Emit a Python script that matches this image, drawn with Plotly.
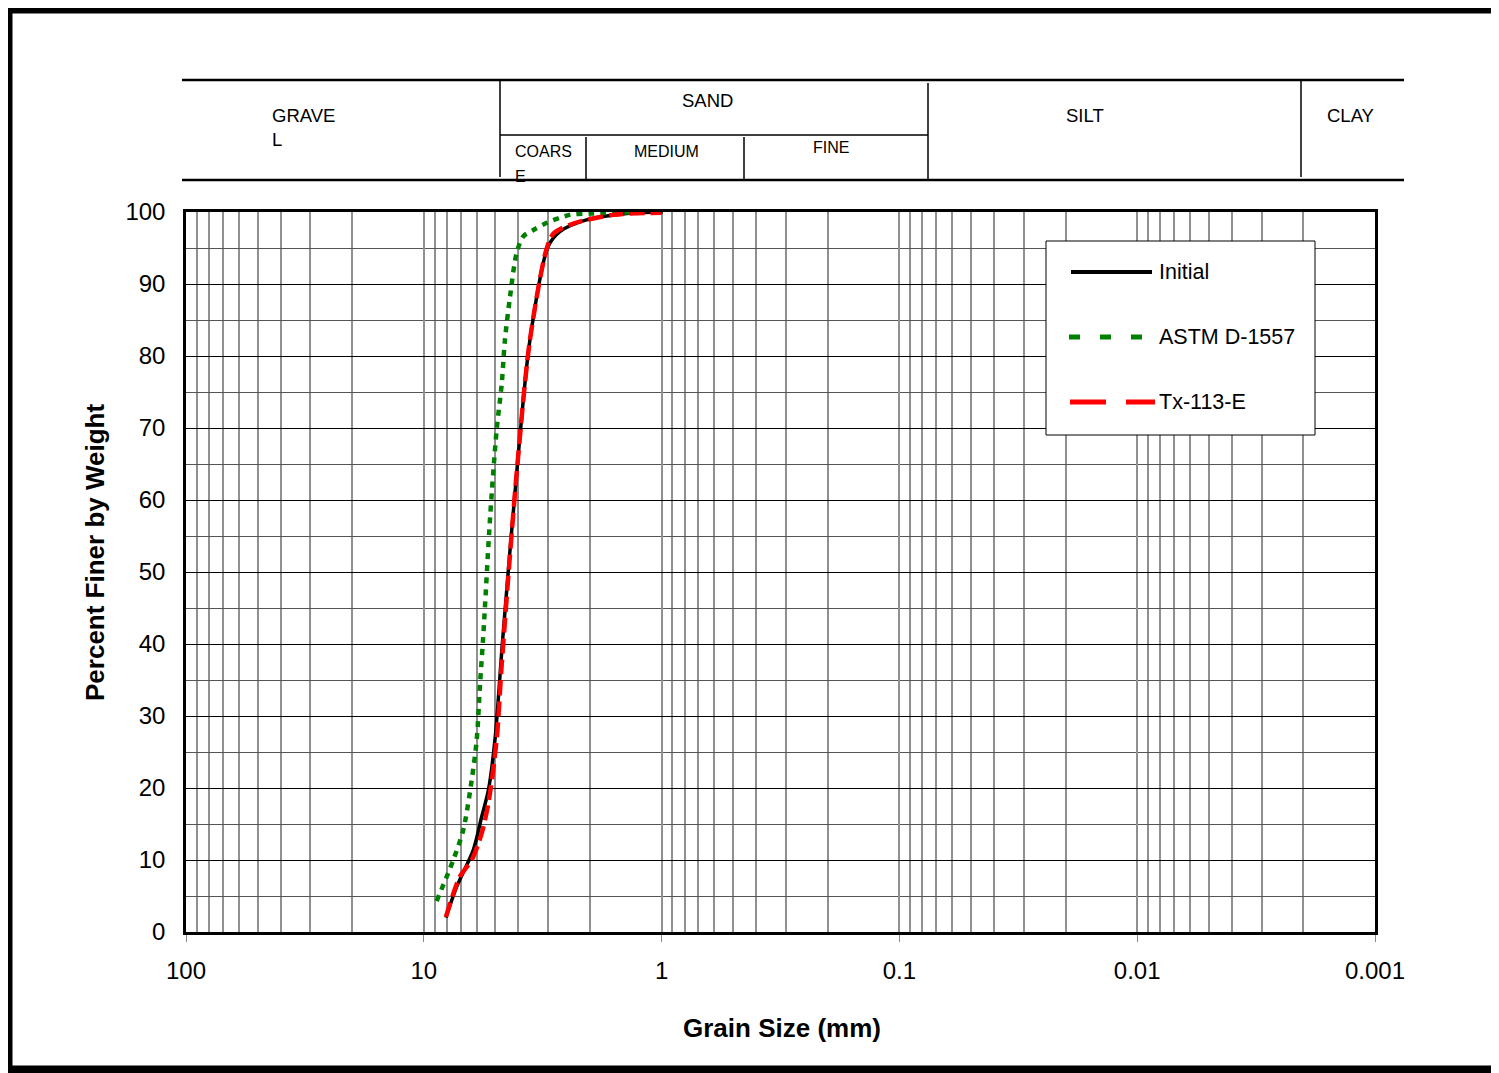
import plotly.graph_objects as go

# ---------------- data ----------------
initial_d = [8.07, 7.27, 6.19, 5.71, 5.35, 5.02, 4.66, 4.07, 3.58, 3.00, 2.67, 2.07, 1.40, 0.99]
initial_p = [2.0, 6.3, 11.4, 16.0, 19.7, 26.7, 40.6, 63.7, 82.2, 95.2, 97.3, 98.9, 99.8, 100.0]

astm_d = [8.83, 7.52, 6.82, 6.29, 5.99, 5.80, 5.62, 5.26, 4.94, 4.70, 4.56, 4.34, 4.07,
          3.82, 3.46, 3.04, 2.43, 1.94, 1.23]
astm_p = [4.3, 10.0, 14.2, 21.1, 26.7, 34.5, 41.2, 57.7, 69.7, 76.2, 82.2, 88.2, 94.3,
          96.6, 97.5, 98.5, 99.6, 99.8, 100.0]

tx_d = [8.07, 7.05, 6.29, 5.71, 5.35, 4.94, 4.70, 4.07, 3.58, 3.05, 2.85, 2.35, 1.60, 1.00]
tx_p = [2.1, 7.7, 10.0, 13.7, 17.9, 26.7, 37.3, 63.7, 82.2, 94.8, 97.0, 98.4, 99.6, 99.9]

series_names = ["Initial", "ASTM D-1557", "Tx-113-E"]
series_colors = ["black", "#008000", "#ff0000"]

x_major_ticks = [100, 10, 1, 0.1, 0.01, 0.001]
x_major_labels = ["100", "10", "1", "0.1", "0.01", "0.001"]
x_minor_ticks = [m * 10.0 ** e for e in (-3, -2, -1, 0, 1) for m in range(2, 10)]

y_ticks = list(range(0, 101, 10))

header_labels = ["GRAVE", "L", "SAND", "COARS", "E", "MEDIUM", "FINE", "SILT", "CLAY"]

# ---------------- figure ----------------
# page body has an 8px margin, so the figure is laid out 8px smaller
OFF = 8
W, H = 1499 - OFF, 1073 - OFF
# plot area in page pixels
L, R, T, B = 186, 1375, 212, 932
FONT = "Liberation Sans, Arial, sans-serif"


def px2x(px):
    return (px - L) / (R - L)


def py2y(py):
    return (B - py) / (B - T)


fig = go.Figure()

fig.add_trace(go.Scatter(
    x=initial_d, y=initial_p, name=series_names[0], mode="lines",
    line=dict(color=series_colors[0], width=3.5, shape="spline", smoothing=0.8)))
fig.add_trace(go.Scatter(
    x=astm_d, y=astm_p, name=series_names[1], mode="lines",
    line=dict(color=series_colors[1], width=4.5, dash="6px,6px", shape="spline", smoothing=0.8)))
fig.add_trace(go.Scatter(
    x=tx_d, y=tx_p, name=series_names[2], mode="lines",
    line=dict(color=series_colors[2], width=4.5, dash="15px,6px", shape="spline", smoothing=0.8)))

fig.update_xaxes(
    type="log", range=[2, -3],
    tickmode="array", tickvals=x_major_ticks, ticktext=x_major_labels,
    ticks="outside", ticklen=7, tickcolor="#888888", tickwidth=1,
    showgrid=True, gridcolor="#909090", gridwidth=2,
    minor=dict(tickmode="array", tickvals=x_minor_ticks, showgrid=True,
               gridcolor="#909090", gridwidth=2, ticks=""),
    showline=True, linecolor="black", linewidth=2.5, mirror=True,
    zeroline=False, tickfont=dict(size=24, color="black", family=FONT),
    ticklabelstandoff=8,
)
fig.update_yaxes(
    range=[0, 100], tickmode="array", tickvals=y_ticks,
    ticks="", showgrid=True, gridcolor="black", gridwidth=1,
    minor=dict(dtick=5, showgrid=True, gridcolor="#555555", gridwidth=1, ticks=""),
    showline=True, linecolor="black", linewidth=2.5, mirror=True,
    zeroline=False, tickfont=dict(size=24, color="black", family=FONT),
    ticklabelstandoff=13,
)

shapes = []
# outer thick frame
shapes.append(dict(type="rect", xref="paper", yref="paper",
                   x0=px2x(8), x1=px2x(1520), y0=py2y(9), y1=py2y(1070),
                   line=dict(color="black", width=9), fillcolor="rgba(0,0,0,0)"))


def hline(x0, x1, y, w=2):
    shapes.append(dict(type="line", xref="paper", yref="paper",
                       x0=px2x(x0), x1=px2x(x1), y0=py2y(y), y1=py2y(y),
                       line=dict(color="black", width=w)))


def vline(x, y0, y1, w=1.5):
    shapes.append(dict(type="line", xref="paper", yref="paper",
                       x0=px2x(x), x1=px2x(x), y0=py2y(y0), y1=py2y(y1),
                       line=dict(color="black", width=w)))


hline(182, 1404, 80, 2.5)
hline(182, 1404, 180, 2.5)
hline(500, 928, 135, 1.5)
vline(500, 80, 177)
vline(928, 83, 180)
vline(1301, 80, 177)
vline(586, 137, 180)
vline(744, 137, 180)

annotations = []


def text(t, x, y, size, xanchor="center"):
    annotations.append(dict(text=t, xref="paper", yref="paper", x=px2x(x), y=py2y(y),
                            xanchor=xanchor, yanchor="middle", showarrow=False,
                            font=dict(size=size, color="black", family=FONT)))


text(header_labels[0], 270, 115, 18.5, "left")
text(header_labels[1], 270, 140, 18.5, "left")
text(header_labels[2], 707, 100, 18.5)
text(header_labels[3], 513, 151, 16, "left")
text(header_labels[4], 513, 177, 16, "left")
text(header_labels[5], 666, 151, 16)
text(header_labels[6], 831, 147, 16)
text(header_labels[7], 1085, 115, 18.5)
text(header_labels[8], 1350, 115, 18.5)

# axis titles
annotations.append(dict(text="<b>Grain Size (mm)</b>", xref="paper", yref="paper",
                        x=px2x(782), y=py2y(1028), xanchor="center", yanchor="middle",
                        showarrow=False, font=dict(size=26, color="black", family=FONT)))
annotations.append(dict(text="<b>Percent Finer by Weight</b>", xref="paper", yref="paper",
                        x=px2x(95), y=py2y(552), xanchor="center", yanchor="middle",
                        textangle=-90, showarrow=False,
                        font=dict(size=26, color="black", family=FONT)))

# legend box (drawn by hand to match the long sample lines and wide spacing)
shapes.append(dict(type="rect", xref="paper", yref="paper", layer="above",
                   x0=px2x(1046), x1=px2x(1315), y0=py2y(241), y1=py2y(435),
                   line=dict(color="black", width=1), fillcolor="white"))
legend_rows = [272, 337, 402]
legend_dash = ["solid", "11px,20px", "36px,20px"]
legend_width = [4, 5, 5]
legend_x = [(1071, 1152), (1069, 1142), (1070, 1155)]
for i in range(3):
    shapes.append(dict(type="line", xref="paper", yref="paper", layer="above",
                       x0=px2x(legend_x[i][0]), x1=px2x(legend_x[i][1]),
                       y0=py2y(legend_rows[i]), y1=py2y(legend_rows[i]),
                       line=dict(color=series_colors[i], width=legend_width[i],
                                 dash=legend_dash[i])))
    text(series_names[i], 1157, legend_rows[i], 21.5, "left")

fig.update_layout(
    width=W, height=H,
    margin=dict(l=L - OFF, r=(W + OFF) - R, t=T - OFF, b=(H + OFF) - B, pad=0),
    paper_bgcolor="white", plot_bgcolor="white",
    shapes=shapes, annotations=annotations,
    showlegend=False,
    font=dict(family=FONT),
)

fig.write_html("out.html")
